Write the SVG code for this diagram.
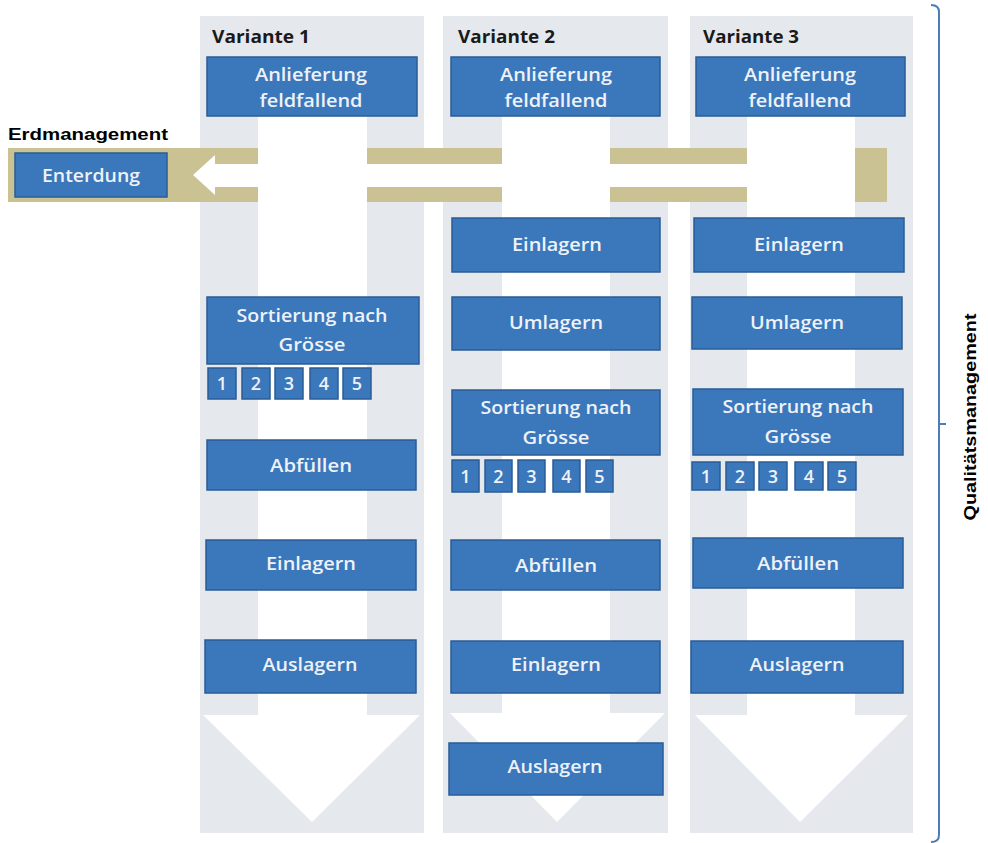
<svg xmlns="http://www.w3.org/2000/svg" width="988" height="843" viewBox="0 0 988 843">
<style>
.panel{fill:#e5e8ec}
.box{fill:#3b77bb;stroke:#2a5c97;stroke-width:1.5}
.bt{font-family:"Open Sans","Liberation Sans",sans-serif;font-size:18px;font-weight:600;fill:#eef2f8;text-anchor:middle}
.nt{font-family:"Open Sans","Liberation Sans",sans-serif;font-size:18px;font-weight:600;fill:#eef2f8;text-anchor:middle}
.title{font-family:"Open Sans","Liberation Sans",sans-serif;font-weight:bold;font-size:18px;fill:#1a1a1a}
.lbl{font-family:"Liberation Sans",Arial,sans-serif;font-weight:bold;font-size:16px;fill:#000}
.tan{fill:#cbc293}
.wa{fill:#ffffff}
</style>
<rect width="988" height="843" fill="#ffffff"/>
<g id="panels">
<rect class="panel" x="200" y="16" width="224" height="817"/>
<rect class="panel" x="443" y="16" width="225" height="817"/>
<rect class="panel" x="690" y="16" width="223" height="817"/>
</g>
<g id="connectors">
<rect class="tan" x="8" y="148" width="879" height="54"/>
<polygon class="wa" points="193,175 215,155 215,164 855,164 855,187 215,187 215,195"/>
<polygon class="wa" points="258,60 367,60 367,715 420,715 312,822 203,715 258,715"/>
<polygon class="wa" points="502,60 610,60 610,713 665,713 557,822 450,713 502,713"/>
<polygon class="wa" points="747,60 855,60 855,715 908,715 800,822 695,715 747,715"/>
<path d="M931,5 Q939,5 939,12 L939,835 Q939,842 931,842 M939,424 L946,424" fill="none" stroke="#4a7ebb" stroke-width="2"/>
</g>
<g id="labels">
<text class="lbl" x="8" y="140" textLength="160" lengthAdjust="spacingAndGlyphs">Erdmanagement</text>
<text class="lbl" transform="translate(976,417) rotate(-90)" x="0" y="0" text-anchor="middle" textLength="207" lengthAdjust="spacingAndGlyphs">Qualitätsmanagement</text>
<text class="title" x="212" y="43" textLength="98" lengthAdjust="spacingAndGlyphs">Variante 1</text>
<text class="title" x="458" y="43" textLength="97" lengthAdjust="spacingAndGlyphs">Variante 2</text>
<text class="title" x="703" y="43" textLength="96" lengthAdjust="spacingAndGlyphs">Variante 3</text>
</g>
<g id="enterdung">
<rect class="box" x="15" y="153" width="152" height="44"/>
<text class="bt" x="91" y="182" textLength="98" lengthAdjust="spacingAndGlyphs">Enterdung</text>
</g>
<!-- Variante 1 -->
<g id="v1-anlieferung">
<rect class="box" x="207" y="57" width="210" height="59"/>
<text class="bt" x="311" y="81" textLength="112" lengthAdjust="spacingAndGlyphs">Anlieferung</text>
<text class="bt" x="311" y="107" textLength="103" lengthAdjust="spacingAndGlyphs">feldfallend</text>
</g>
<g id="v1-sortierung">
<rect class="box" x="207" y="297" width="212" height="67"/>
<text class="bt" x="312" y="322" textLength="151" lengthAdjust="spacingAndGlyphs">Sortierung nach</text>
<text class="bt" x="312" y="351" textLength="67" lengthAdjust="spacingAndGlyphs">Grösse</text>
</g>
<g id="v1-numbers">
<rect class="box" x="208" y="368" width="28" height="31"/><text class="nt" x="222" y="390">1</text>
<rect class="box" x="242" y="368" width="28" height="31"/><text class="nt" x="256" y="390">2</text>
<rect class="box" x="275" y="368" width="28" height="31"/><text class="nt" x="289" y="390">3</text>
<rect class="box" x="310" y="368" width="28" height="31"/><text class="nt" x="324" y="390">4</text>
<rect class="box" x="343" y="368" width="28" height="31"/><text class="nt" x="357" y="390">5</text>
</g>
<g id="v1-abfuellen">
<rect class="box" x="207" y="440" width="209" height="50"/>
<text class="bt" x="311" y="472" textLength="82" lengthAdjust="spacingAndGlyphs">Abfüllen</text>
</g>
<g id="v1-einlagern">
<rect class="box" x="206" y="540" width="210" height="50"/>
<text class="bt" x="311" y="570" textLength="90" lengthAdjust="spacingAndGlyphs">Einlagern</text>
</g>
<g id="v1-auslagern">
<rect class="box" x="205" y="640" width="211" height="53"/>
<text class="bt" x="310" y="671" textLength="95" lengthAdjust="spacingAndGlyphs">Auslagern</text>
</g>
<!-- Variante 2 -->
<g id="v2-anlieferung">
<rect class="box" x="451" y="57" width="209" height="59"/>
<text class="bt" x="556" y="81" textLength="112" lengthAdjust="spacingAndGlyphs">Anlieferung</text>
<text class="bt" x="556" y="107" textLength="103" lengthAdjust="spacingAndGlyphs">feldfallend</text>
</g>
<g id="v2-einlagern">
<rect class="box" x="452" y="218" width="208" height="54"/>
<text class="bt" x="557" y="251" textLength="90" lengthAdjust="spacingAndGlyphs">Einlagern</text>
</g>
<g id="v2-umlagern">
<rect class="box" x="452" y="297" width="208" height="53"/>
<text class="bt" x="556" y="329" textLength="94" lengthAdjust="spacingAndGlyphs">Umlagern</text>
</g>
<g id="v2-sortierung">
<rect class="box" x="452" y="390" width="208" height="65"/>
<text class="bt" x="556" y="414" textLength="151" lengthAdjust="spacingAndGlyphs">Sortierung nach</text>
<text class="bt" x="556" y="444" textLength="67" lengthAdjust="spacingAndGlyphs">Grösse</text>
</g>
<g id="v2-numbers">
<rect class="box" x="452" y="460" width="27" height="32"/><text class="nt" x="465.5" y="483">1</text>
<rect class="box" x="485" y="460" width="27" height="32"/><text class="nt" x="498.5" y="483">2</text>
<rect class="box" x="518" y="460" width="27" height="32"/><text class="nt" x="531.5" y="483">3</text>
<rect class="box" x="553" y="460" width="27" height="32"/><text class="nt" x="566.5" y="483">4</text>
<rect class="box" x="586" y="460" width="27" height="32"/><text class="nt" x="599.5" y="483">5</text>
</g>
<g id="v2-abfuellen">
<rect class="box" x="451" y="540" width="209" height="50"/>
<text class="bt" x="556" y="572" textLength="82" lengthAdjust="spacingAndGlyphs">Abfüllen</text>
</g>
<g id="v2-einlagern2">
<rect class="box" x="451" y="641" width="209" height="52"/>
<text class="bt" x="556" y="671" textLength="90" lengthAdjust="spacingAndGlyphs">Einlagern</text>
</g>
<g id="v2-auslagern">
<rect class="box" x="449" y="743" width="214" height="52"/>
<text class="bt" x="555" y="773" textLength="95" lengthAdjust="spacingAndGlyphs">Auslagern</text>
</g>
<!-- Variante 3 -->
<g id="v3-anlieferung">
<rect class="box" x="696" y="57" width="209" height="59"/>
<text class="bt" x="800" y="81" textLength="112" lengthAdjust="spacingAndGlyphs">Anlieferung</text>
<text class="bt" x="800" y="107" textLength="103" lengthAdjust="spacingAndGlyphs">feldfallend</text>
</g>
<g id="v3-einlagern">
<rect class="box" x="694" y="218" width="210" height="54"/>
<text class="bt" x="799" y="251" textLength="90" lengthAdjust="spacingAndGlyphs">Einlagern</text>
</g>
<g id="v3-umlagern">
<rect class="box" x="692" y="297" width="210" height="52"/>
<text class="bt" x="797" y="329" textLength="94" lengthAdjust="spacingAndGlyphs">Umlagern</text>
</g>
<g id="v3-sortierung">
<rect class="box" x="693" y="389" width="210" height="66"/>
<text class="bt" x="798" y="413" textLength="151" lengthAdjust="spacingAndGlyphs">Sortierung nach</text>
<text class="bt" x="798" y="443" textLength="67" lengthAdjust="spacingAndGlyphs">Grösse</text>
</g>
<g id="v3-numbers">
<rect class="box" x="692" y="462" width="28" height="28"/><text class="nt" x="706" y="483">1</text>
<rect class="box" x="726" y="462" width="28" height="28"/><text class="nt" x="740" y="483">2</text>
<rect class="box" x="759" y="462" width="28" height="28"/><text class="nt" x="773" y="483">3</text>
<rect class="box" x="795" y="462" width="28" height="28"/><text class="nt" x="809" y="483">4</text>
<rect class="box" x="828" y="462" width="28" height="28"/><text class="nt" x="842" y="483">5</text>
</g>
<g id="v3-abfuellen">
<rect class="box" x="693" y="538" width="210" height="50"/>
<text class="bt" x="798" y="570" textLength="82" lengthAdjust="spacingAndGlyphs">Abfüllen</text>
</g>
<g id="v3-auslagern">
<rect class="box" x="691" y="641" width="212" height="52"/>
<text class="bt" x="797" y="671" textLength="95" lengthAdjust="spacingAndGlyphs">Auslagern</text>
</g>
</svg>
